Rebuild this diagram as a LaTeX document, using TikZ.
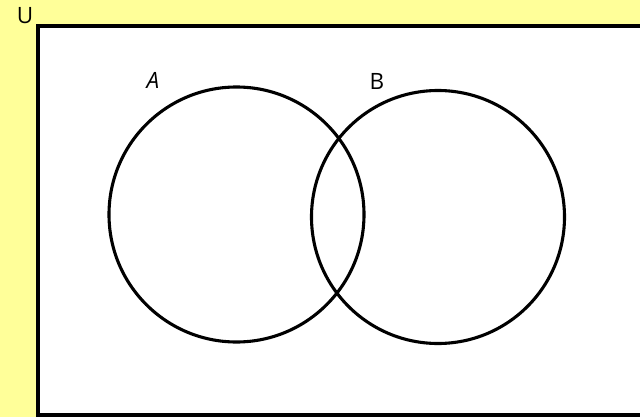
\documentclass[tikz,border=0pt]{standalone}
\usepackage{fontspec}
\setmainfont{Open Sans}
\usepackage{xcolor}
\usepackage{tikz}
\usetikzlibrary{positioning,backgrounds}
\definecolor{pageyellow}{RGB}{255,255,153}

\begin{document}
\begin{tikzpicture}[
  x=0.025cm, y=0.025cm,
  setcirc/.style ={draw=black,line width=2.2pt},
  universe/.style={draw=black,fill=white,line width=2.3pt},
  setlabel/.style={font=\fontsize{16}{18}\selectfont,inner sep=0pt},
]
\fill[pageyellow] (0,0) rectangle (640,417);
\useasboundingbox (0,0) rectangle (640,417);
\draw[universe] (38,2) rectangle (660,391);
\node[setlabel] (U) at (25,401) {U};

\coordinate (cA) at (236.5,202.5);
\coordinate (cB) at (438,200);
\draw[setcirc] (cA) circle (127.5);
\draw[setcirc] (cB) circle (126.5);

\node[setlabel,font=\fontsize{16}{18}\selectfont\itshape] (A) at (153,337) {A};
\node[setlabel] (B) at (377,336) {B};
\end{tikzpicture}
\end{document}
